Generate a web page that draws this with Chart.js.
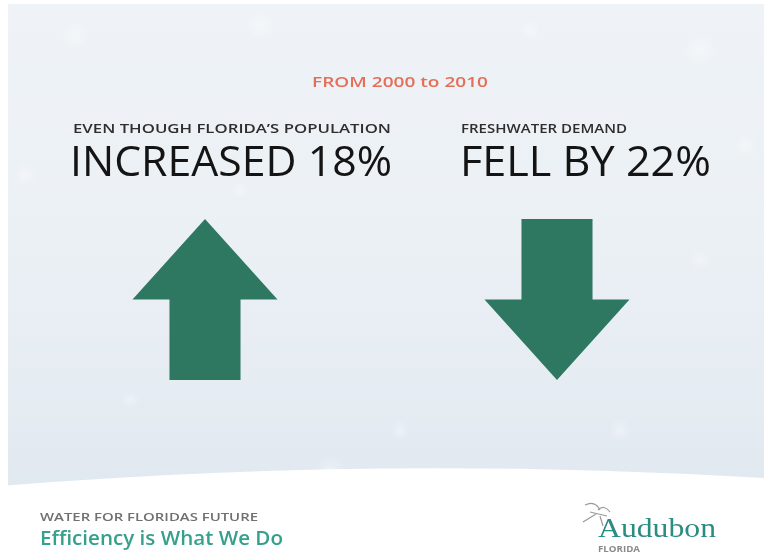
<!DOCTYPE html>
<html>
<head>
<meta charset="utf-8">
<script src="https://cdn.jsdelivr.net/npm/chart.js@4"></script>
<style>
  html, body { margin: 0; padding: 0; background: #ffffff; }
  #wrap { width: 764px; height: 556px; position: relative; }
</style>
</head>
<body>
<div id="wrap"><canvas id="c" width="764" height="556"></canvas></div>
<script>
// ---- data ----
const periodLabel = "FROM 2000 to 2010";
const categories = ["EVEN THOUGH FLORIDA'S POPULATION", "FRESHWATER DEMAND"];
const changes = [18, -22];            // percent change 2000 -> 2010
const verbs = ["INCREASED", "FELL BY"];
const footerKicker = "WATER FOR FLORIDAS FUTURE";
const footerTagline = "Efficiency is What We Do";
const logoName = "Audubon";
const logoSub = "FLORIDA";

const arrowColor = "#2e7862";

// headline text built from the values
const headlines = changes.map((v, i) => verbs[i] + " " + Math.abs(v) + "%");

// one dataset per category, each on its own hidden y scale so both arrows span the band
const datasets = changes.map((v, i) => ({
  label: categories[i],
  data: changes.map((_, j) => (j === i ? v : null)),
  yAxisID: i === 0 ? "yUp" : "yDown",
  backgroundColor: "rgba(0,0,0,0)",
  borderWidth: 0,
  grouped: false,
  barPercentage: 0.412,
  categoryPercentage: 1
}));

const backgroundPlugin = {
  id: "bg",
  beforeDraw(chart) {
    const ctx = chart.ctx, W = chart.width, H = chart.height;
    ctx.save();
    ctx.fillStyle = "#ffffff";
    ctx.fillRect(0, 0, W, H);
    const g = ctx.createLinearGradient(0, 0, 0, 490);
    g.addColorStop(0, "#eff3f7");
    g.addColorStop(0.5, "#ebf0f5");
    g.addColorStop(1, "#e1e9f0");
    ctx.fillStyle = g;
    ctx.fillRect(8, 4, W - 8, 490);
    // subtle droplets
    const drops = [[75,35,14],[260,25,14],[530,30,10],[700,50,16],[25,175,12],[745,145,12],[240,190,9],[130,400,10],[400,430,10],[620,430,12],[330,470,14],[700,260,10]];
    drops.forEach(d => {
      const rg = ctx.createRadialGradient(d[0], d[1], 0, d[0], d[1], d[2]);
      rg.addColorStop(0, "rgba(255,255,255,0.35)");
      rg.addColorStop(1, "rgba(255,255,255,0)");
      ctx.fillStyle = rg;
      ctx.beginPath(); ctx.arc(d[0], d[1], d[2], 0, Math.PI * 2); ctx.fill();
    });
    // white curved footer
    ctx.fillStyle = "#ffffff";
    ctx.beginPath();
    ctx.moveTo(0, 486);
    ctx.quadraticCurveTo(382, 455, W, 478);
    ctx.lineTo(W, H); ctx.lineTo(0, H); ctx.closePath();
    ctx.fill();
    ctx.restore();
  }
};

function drawText(ctx, txt, x, y, font, color, width) {
  ctx.font = font;
  ctx.fillStyle = color;
  ctx.textAlign = "left";
  ctx.textBaseline = "alphabetic";
  const w = ctx.measureText(txt).width;
  ctx.save();
  ctx.translate(x, y);
  if (width) ctx.scale(width / w, 1);
  ctx.fillText(txt, 0, 0);
  ctx.restore();
}

const arrowPlugin = {
  id: "arrows",
  afterDatasetsDraw(chart) {
    const ctx = chart.ctx;
    ctx.save();
    ctx.fillStyle = arrowColor;
    chart.data.datasets.forEach((ds, di) => {
      const meta = chart.getDatasetMeta(di);
      meta.data.forEach((bar, j) => {
        const v = ds.data[j];
        if (v === null || v === undefined) return;
        const p = bar.getProps(["x", "y", "base", "width"], true);
        const cx = p.x, hw = p.width / 2, sw = p.width * 0.245;
        const tip = p.y, tail = p.base;
        const len = tail - tip;                 // signed
        const neck = tip + len * 0.5;
        ctx.beginPath();
        ctx.moveTo(cx, tip);
        ctx.lineTo(cx + hw, neck);
        ctx.lineTo(cx + sw, neck);
        ctx.lineTo(cx + sw, tail);
        ctx.lineTo(cx - sw, tail);
        ctx.lineTo(cx - sw, neck);
        ctx.lineTo(cx - hw, neck);
        ctx.closePath();
        ctx.fill();
      });
    });
    ctx.restore();
  }
};

const textPlugin = {
  id: "texts",
  afterDraw(chart) {
    const ctx = chart.ctx;
    ctx.save();
    drawText(ctx, periodLabel, 312, 87, "600 15px 'Open Sans'", "#e56e58", 176);
    const xs = [73, 461];
    const hx = [70, 460];
    const kw = [318, 166];
    const hwid = [322, 251];
    categories.forEach((c, i) => {
      drawText(ctx, c.replace("'", "\u2019"), xs[i], 133, "600 13px 'Open Sans'", "#2e2e2e", kw[i]);
      drawText(ctx, headlines[i], hx[i], 176, "500 42px 'Open Sans'", "#141414", hwid[i]);
    });
    drawText(ctx, footerKicker, 40, 521, "600 11px 'Open Sans'", "#707070", 218);
    drawText(ctx, footerTagline, 40, 545, "600 20px 'Open Sans'", "#35a08b", 243);
    // logo
    drawText(ctx, logoName, 598, 537, "400 27px 'Liberation Serif'", "#2a8c82", 118);
    drawText(ctx, logoSub, 598, 552, "700 8px 'Open Sans'", "#8a8a8a", 42);
    // bird sketch
    ctx.strokeStyle = "#9a9a9a";
    ctx.lineWidth = 1.2;
    ctx.beginPath();
    ctx.moveTo(585, 505); ctx.quadraticCurveTo(595, 500, 600, 510);
    ctx.moveTo(590, 512); ctx.lineTo(607, 516);
    ctx.moveTo(598, 510); ctx.quadraticCurveTo(604, 504, 610, 512);
    ctx.moveTo(583, 522); ctx.lineTo(596, 514);
    ctx.moveTo(600, 516); ctx.lineTo(603, 526);
    ctx.stroke();
    ctx.restore();
  }
};

new Chart(document.getElementById("c"), {
  type: "bar",
  data: { labels: categories, datasets: datasets },
  options: {
    responsive: false,
    animation: false,
    events: [],
    layout: { padding: { top: 219, bottom: 176, left: 29, right: 31 } },
    plugins: { legend: { display: false }, title: { display: false }, tooltip: { enabled: false } },
    scales: {
      x: { display: false, offset: true },
      yUp: { display: false, min: 0, max: Math.abs(changes[0]), position: "left" },
      yDown: { display: false, min: -Math.abs(changes[1]), max: 0, position: "right" }
    }
  },
  plugins: [backgroundPlugin, arrowPlugin, textPlugin]
});
</script>
</body>
</html>
